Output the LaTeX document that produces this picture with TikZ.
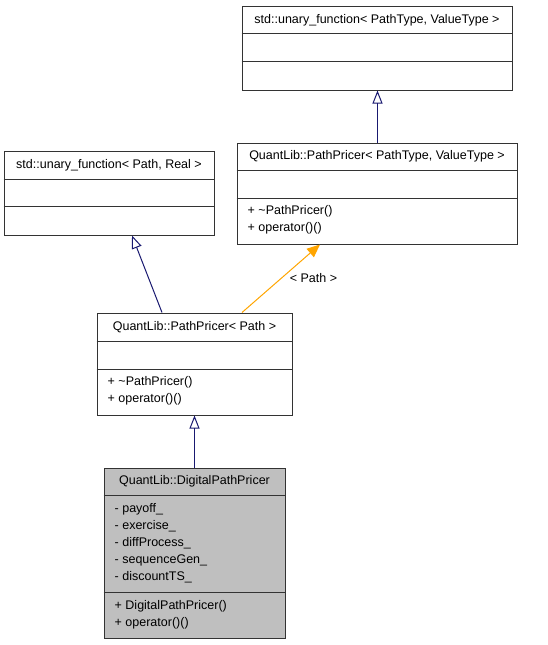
\documentclass[tikz,border=0pt]{standalone}
\usepackage{fontspec}
\setmainfont{Liberation Sans}
\usepackage{tikz}
\usetikzlibrary{calc, positioning}
\usetikzlibrary{arrows.meta}
\tikzset{>=stealth}
\usepackage{xcolor}
\definecolor{myblue}{HTML}{191970}
\definecolor{myorange}{HTML}{FFA500}
\definecolor{mygray}{HTML}{BFBFBF}
\definecolor{myline}{HTML}{333333}
\tikzset{
  classbox/.style={draw=myline, line width=1pt, inner sep=0pt},
  divider/.style={draw=myline, line width=1pt},
  member/.style={anchor=west, inner sep=0pt},
  inherit/.style={color=myblue, line width=1pt, -{Triangle[open, length=13pt, width=10pt]}},
  templ/.style={color=myorange, line width=1pt, -{Triangle[length=13pt, width=11pt]}}
}

\begin{document}
\begin{tikzpicture}[x=1pt, y=-1pt, font=\fontsize{12.5}{15}\selectfont]
			\useasboundingbox (0,0) rectangle (547,645);
			% class boxes
			\node [classbox, minimum width=270pt, minimum height=84pt] (A) at (377,48) {};
			\node [classbox, minimum width=280pt, minimum height=101pt] (B) at (377,193.5) {};
			\node [classbox, minimum width=210pt, minimum height=84pt] (C) at (109,193) {};
			\node [classbox, minimum width=195pt, minimum height=102pt] (D) at (194.5,364) {};
			\node [classbox, fill=mygray, minimum width=181pt, minimum height=170pt] (E) at (194.5,553) {};
			% std::unary_function< PathType, ValueType >
			\node (Atitle) at ($(A.north)+(0,14.5)$) {std::unary\_function< PathType, ValueType >};
			\draw [divider] ($(A.north west)+(0,28)$) -- ($(A.north east)+(0,28)$);
			\draw [divider] ($(A.north west)+(0,56)$) -- ($(A.north east)+(0,56)$);
			% QuantLib::PathPricer< PathType, ValueType >
			\node (Btitle) at ($(B.north)+(0,14)$) {QuantLib::PathPricer< PathType, ValueType >};
			\draw [divider] ($(B.north west)+(0,28)$) -- ($(B.north east)+(0,28)$);
			\draw [divider] ($(B.north west)+(0,56)$) -- ($(B.north east)+(0,56)$);
			\node [member] (Bm1) at ($(B.north west)+(11,68.5)$) {+ \textasciitilde PathPricer()};
			\node [member] (Bm2) at ($(B.north west)+(11,86)$) {+ operator()()};
			% std::unary_function< Path, Real >
			\node (Ctitle) at ($(C.north)+(0,14.5)$) {std::unary\_function< Path, Real >};
			\draw [divider] ($(C.north west)+(0,28.5)$) -- ($(C.north east)+(0,28.5)$);
			\draw [divider] ($(C.north west)+(0,56)$) -- ($(C.north east)+(0,56)$);
			% QuantLib::PathPricer< Path >
			\node (Dtitle) at ($(D.north)+(0,14.5)$) {QuantLib::PathPricer< Path >};
			\draw [divider] ($(D.north west)+(0,29)$) -- ($(D.north east)+(0,29)$);
			\draw [divider] ($(D.north west)+(0,57)$) -- ($(D.north east)+(0,57)$);
			\node [member] (Dm1) at ($(D.north west)+(11,69.5)$) {+ \textasciitilde PathPricer()};
			\node [member] (Dm2) at ($(D.north west)+(11,86.5)$) {+ operator()()};
			% QuantLib::DigitalPathPricer
			\node (Etitle) at ($(E.north)+(0,14)$) {QuantLib::DigitalPathPricer};
			\draw [divider] ($(E.north west)+(0,28)$) -- ($(E.north east)+(0,28)$);
			\node [member] (Ea1) at ($(E.north west)+(11,41.5)$) {- payoff\_};
			\node [member] (Ea2) at ($(E.north west)+(11,59)$) {- exercise\_};
			\node [member] (Ea3) at ($(E.north west)+(11,76)$) {- diffProcess\_};
			\node [member] (Ea4) at ($(E.north west)+(11,93)$) {- sequenceGen\_};
			\node [member] (Ea5) at ($(E.north west)+(11,110)$) {- discountTS\_};
			\draw [divider] ($(E.north west)+(0,125)$) -- ($(E.north east)+(0,125)$);
			\node [member] (Em1) at ($(E.north west)+(11,138.5)$) {+ DigitalPathPricer()};
			\node [member] (Em2) at ($(E.north west)+(11,155.5)$) {+ operator()()};
			% connectors
			\draw [inherit] ($(B.north)+(0.5,0)$) -- ($(A.south)+(0.5,0)$);
			\draw [inherit] ($(D.north)+(-32.5,0)$) -- ($(C.south)+(23,0)$);
			\draw [inherit] (E.north) -- (D.south);
			\draw [templ] ($(D.north)+(47.5,0)$) -- node [right, xshift=5pt, text=black] (pathlbl) {< Path >} ($(B.south)+(-57,0)$);
		\end{tikzpicture}
\end{document}
